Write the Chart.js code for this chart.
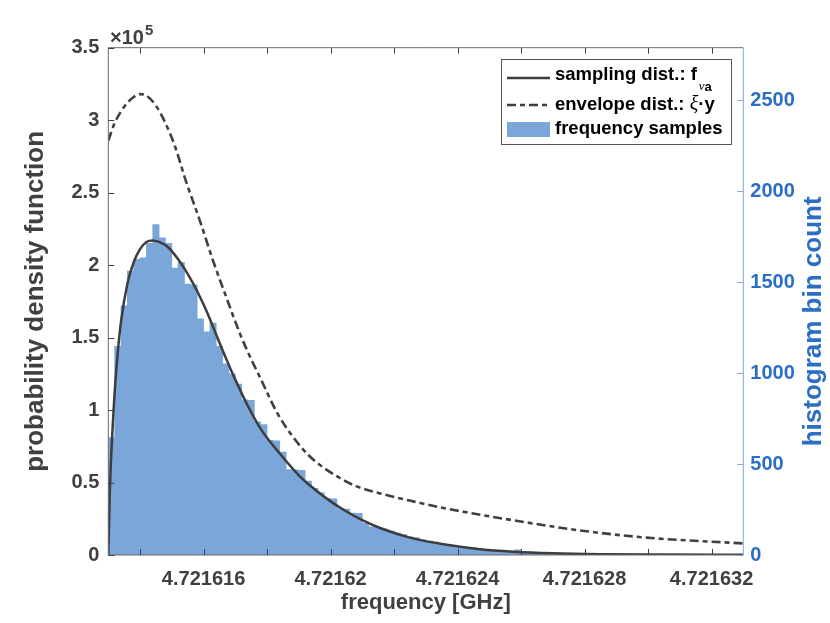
<!DOCTYPE html>
<html lang="en">
<head>
  <meta charset="UTF-8" />
  <title>Frequency samples vs. sampling distribution</title>
  <script src="https://cdn.jsdelivr.net/npm/chart.js"></script>
  <style>
    html, body { margin: 0; padding: 0; background: #fff; }
    #wrap { width: 830px; height: 623px; }
  </style>
</head>
<body>
  <div id="wrap"><canvas id="chart" width="830" height="623"></canvas></div>
  <script>
    // histogram: 100 bins of 200 Hz starting at the left edge of the axis
    const binStart = 4.721613;
    const binWidth = 0.0000002;
    const binCounts = [
      646, 1148, 1371, 1562, 1626, 1634, 1714, 1817, 1745, 1714,
      1578, 1610, 1490, 1486, 1299, 1227, 1275, 1148, 1052, 996,
      940, 853, 850, 733, 717, 630, 628, 566, 470, 468,
      466, 406, 367, 343, 311, 309, 255, 253, 231, 229,
      175, 155, 151, 143, 132, 120, 112, 100, 96, 84,
      76, 72, 64, 56, 52, 48, 44, 40, 36, 32,
      29, 26, 24, 21, 28, 18, 16, 14, 13, 12,
      10, 9, 9, 8, 7, 6, 6, 5, 5, 4,
      4, 4, 3, 3, 3, 2, 3, 2, 2, 2,
      1, 2, 1, 1, 1, 1, 1, 0, 1, 1
    ];

    // sampling distribution f_va (left axis)
    const pdfFreq = [
      4.721613, 4.72161305, 4.7216131, 4.7216132, 4.7216133, 4.7216134, 4.7216136, 4.7216138,
      4.721614, 4.7216142, 4.7216144, 4.7216146, 4.7216149, 4.7216152, 4.7216155, 4.7216158,
      4.7216161, 4.7216164, 4.7216167, 4.721617, 4.72161737, 4.7216178, 4.7216184, 4.721619,
      4.72161946, 4.72162, 4.7216205, 4.721621, 4.72162156, 4.7216225, 4.72162366, 4.7216247,
      4.72162574, 4.721627, 4.7216285, 4.7216305, 4.721633
    ];
    const pdfValue = [
      0, 45000, 72000, 112000, 140000, 161000, 187000, 202000,
      211000, 216000, 217000, 216000, 212000, 204000, 194000, 182000,
      168000, 152000, 136000, 121000, 104000, 87000, 70000, 55000,
      46000, 37000, 30000, 24000, 18600, 12000, 7000, 4000,
      2300, 1200, 600, 300, 100
    ];

    // envelope distribution xi*y (left axis)
    const envFreq = [
      4.721613, 4.7216132, 4.7216134, 4.7216136, 4.7216138, 4.721614, 4.7216142, 4.7216145,
      4.7216148, 4.7216151, 4.72161543, 4.72161591, 4.7216163, 4.72161663, 4.72161716, 4.72161748,
      4.72161779, 4.72161832, 4.7216188, 4.7216193, 4.7216198, 4.7216203, 4.7216208, 4.72162156,
      4.7216226, 4.72162366, 4.72162574, 4.72162784, 4.72162994, 4.721633
    ];
    const envValue = [
      286000, 298000, 306000, 312000, 316000, 318000, 317000, 310000,
      298000, 282000, 259000, 229000, 203000, 183000, 152000, 136000,
      122000, 98000, 82000, 69000, 60000, 53000, 47500, 42500,
      37000, 32000, 24000, 17000, 12000, 8000
    ];

    const xTickValues = [4.721614, 4.721616, 4.721618, 4.72162, 4.721622, 4.721624, 4.721626, 4.721628, 4.72163, 4.721632];
    const xTickLabels = ['', '4.721616', '', '4.72162', '', '4.721624', '', '4.721628', '', '4.721632'];
    const yLeftTicks = [0, 50000, 100000, 150000, 200000, 250000, 300000, 350000];
    const yLeftLabels = ['0', '0.5', '1', '1.5', '2', '2.5', '3', '3.5'];
    const yRightTicks = [0, 500, 1000, 1500, 2000, 2500];

    const GREY = '#404040';
    const BLUE = '#2b6fc4';
    const BAR = '#7ba6d9';
    const FONT = '"Liberation Sans", Arial, Helvetica, sans-serif';

    const histData = binCounts.map((c, i) => ({ x: binStart + (i + 0.5) * binWidth, y: c }));
    const pdfData = pdfFreq.map((f, i) => ({ x: f, y: pdfValue[i] }));
    const envData = envFreq.map((f, i) => ({ x: f, y: envValue[i] }));

    // inward tick marks and box lines drawn on top of the data, like MATLAB does
    const axesBox = {
      id: 'axesBox',
      afterDatasetsDraw(chart) {
        const { ctx, chartArea: a, scales } = chart;
        const len = 6;
        ctx.save();
        ctx.lineWidth = 1;
        ctx.strokeStyle = '#6a6a6a';
        ctx.beginPath();
        ctx.moveTo(a.left, a.bottom); ctx.lineTo(a.left, a.top); ctx.lineTo(a.right, a.top);
        ctx.moveTo(a.left, a.bottom); ctx.lineTo(a.right, a.bottom);
        ctx.stroke();
        ctx.strokeStyle = GREY;
        ctx.beginPath();
        xTickValues.forEach(v => {
          const px = Math.round(scales.x.getPixelForValue(v)) + 0.5;
          ctx.moveTo(px, a.bottom); ctx.lineTo(px, a.bottom - len);
          ctx.moveTo(px, a.top); ctx.lineTo(px, a.top + len);
        });
        yLeftTicks.forEach(v => {
          const py = Math.round(scales.y.getPixelForValue(v)) + 0.5;
          ctx.moveTo(a.left, py); ctx.lineTo(a.left + len, py);
        });
        ctx.stroke();
        ctx.strokeStyle = '#7fa9dc';
        ctx.beginPath();
        ctx.moveTo(a.right, a.top); ctx.lineTo(a.right, a.bottom);
        yRightTicks.forEach(v => {
          const py = Math.round(scales.y1.getPixelForValue(v)) + 0.5;
          ctx.moveTo(a.right, py); ctx.lineTo(a.right - len, py);
        });
        ctx.stroke();
        ctx.restore();
      },
      afterDraw(chart) {
        const { ctx, chartArea: a } = chart;
        ctx.save();
        // axis titles
        ctx.textAlign = 'center';
        ctx.textBaseline = 'middle';
        ctx.font = 'bold 22px ' + FONT;
        ctx.fillStyle = GREY;
        ctx.fillText('frequency [GHz]', (a.left + a.right) / 2, 603);
        ctx.font = 'bold 26px ' + FONT;
        ctx.save();
        ctx.translate(36, (a.top + a.bottom) / 2);
        ctx.rotate(-Math.PI / 2);
        ctx.fillText('probability density function', 0, 0);
        ctx.restore();
        ctx.save();
        ctx.fillStyle = BLUE;
        ctx.translate(814, (a.top + a.bottom) / 2 + 20);
        ctx.rotate(-Math.PI / 2);
        ctx.fillText('histogram bin count', 0, 0);
        ctx.restore();

        // exponent of the left axis
        ctx.textAlign = 'left';
        ctx.textBaseline = 'alphabetic';
        ctx.fillStyle = GREY;
        ctx.font = 'bold 20px ' + FONT;
        ctx.fillText('\u00d710', 110, 44);
        const w10 = ctx.measureText('\u00d710').width;
        ctx.font = 'bold 15px ' + FONT;
        ctx.fillText('5', 110 + w10 + 1, 35);

        // legend
        const bx = 501, by = 59, bw = 230, bh = 85;
        ctx.fillStyle = '#fff';
        ctx.fillRect(bx, by, bw, bh);
        ctx.strokeStyle = '#555';
        ctx.lineWidth = 1;
        ctx.strokeRect(bx + 0.5, by + 0.5, bw, bh);
        const rows = [78, 105, 129];
        ctx.strokeStyle = '#3d3d3d';
        ctx.lineWidth = 2.5;
        ctx.beginPath(); ctx.moveTo(507, rows[0]); ctx.lineTo(550, rows[0]); ctx.stroke();
        ctx.lineWidth = 2.6;
        ctx.setLineDash([9, 4, 5, 4]);
        ctx.beginPath(); ctx.moveTo(507, rows[1]); ctx.lineTo(550, rows[1]); ctx.stroke();
        ctx.setLineDash([]);
        ctx.fillStyle = BAR;
        ctx.fillRect(507, rows[2] - 7, 43, 15);

        ctx.fillStyle = '#000';
        ctx.textBaseline = 'middle';
        ctx.font = 'bold 18.5px ' + FONT;
        ctx.fillText('sampling dist.: f', 555, rows[0] - 3);
        let x = 555 + ctx.measureText('sampling dist.: f').width + 2;
        ctx.font = 'italic 13px "Liberation Serif", serif';
        ctx.fillText('\u03bd', x, rows[0] + 9);
        x += ctx.measureText('\u03bd').width;
        ctx.font = 'bold 13px ' + FONT;
        ctx.fillText('a', x, rows[0] + 9);

        ctx.font = 'bold 18.5px ' + FONT;
        ctx.fillText('envelope dist.: ', 555, rows[1]);
        x = 555 + ctx.measureText('envelope dist.: ').width;
        ctx.font = 'italic 20px "Liberation Serif", serif';
        ctx.fillText('\u03be', x, rows[1]);
        x += ctx.measureText('\u03be').width;
        ctx.font = 'bold 18.5px ' + FONT;
        ctx.fillText('\u00b7y', x, rows[1]);

        ctx.fillText('frequency samples', 555, rows[2]);
        ctx.restore();
      }
    };

    new Chart(document.getElementById('chart'), {
      data: {
        datasets: [
          {
            type: 'line', label: 'sampling dist.', data: pdfData, yAxisID: 'y', order: 1,
            borderColor: '#3d3d3d', borderWidth: 2.5, pointRadius: 0, fill: false,
            cubicInterpolationMode: 'monotone'
          },
          {
            type: 'line', label: 'envelope dist.', data: envData, yAxisID: 'y', order: 2,
            borderColor: '#404040', borderWidth: 2.6, borderDash: [9, 4, 5, 4], pointRadius: 0, fill: false,
            cubicInterpolationMode: 'monotone'
          },
          {
            type: 'bar', label: 'frequency samples', data: histData, yAxisID: 'y1', order: 3,
            backgroundColor: BAR, borderWidth: 0, barPercentage: 1, categoryPercentage: 1
          }
        ]
      },
      options: {
        responsive: false,
        animation: false,
        devicePixelRatio: 1,
        layout: { padding: { top: 47.7, left: 0, right: 0, bottom: 0 } },
        plugins: { legend: { display: false }, tooltip: { enabled: false } },
        scales: {
          x: {
            type: 'linear', min: 4.721613, max: 4.721633, bounds: 'data', offset: false,
            grid: { display: false, drawTicks: false, offset: false }, border: { display: false },
            afterBuildTicks: s => { s.ticks = xTickValues.map(v => ({ value: v })); },
            afterFit: s => { s.height = 68; },
            ticks: {
              autoSkip: false, maxRotation: 0, padding: 12, color: GREY,
              font: { family: FONT, size: 20, weight: 'bold' },
              callback: (v, i) => xTickLabels[i]
            }
          },
          y: {
            position: 'left', min: 0, max: 350000, bounds: 'data',
            grid: { display: false, drawTicks: false }, border: { display: false },
            afterBuildTicks: s => { s.ticks = yLeftTicks.map(v => ({ value: v })); },
            afterFit: s => { s.width = 108.3; },
            ticks: {
              padding: 9, color: GREY,
              font: { family: FONT, size: 20, weight: 'bold' },
              callback: (v, i) => yLeftLabels[i]
            }
          },
          y1: {
            position: 'right', min: 0, max: 2790, bounds: 'data',
            grid: { display: false, drawTicks: false }, border: { display: false },
            afterBuildTicks: s => { s.ticks = yRightTicks.map(v => ({ value: v })); },
            afterFit: s => { s.width = 86.7; },
            ticks: {
              padding: 7, color: BLUE,
              font: { family: FONT, size: 20, weight: 'bold' },
              callback: v => String(v)
            }
          }
        }
      },
      plugins: [axesBox]
    });
  </script>
</body>
</html>
